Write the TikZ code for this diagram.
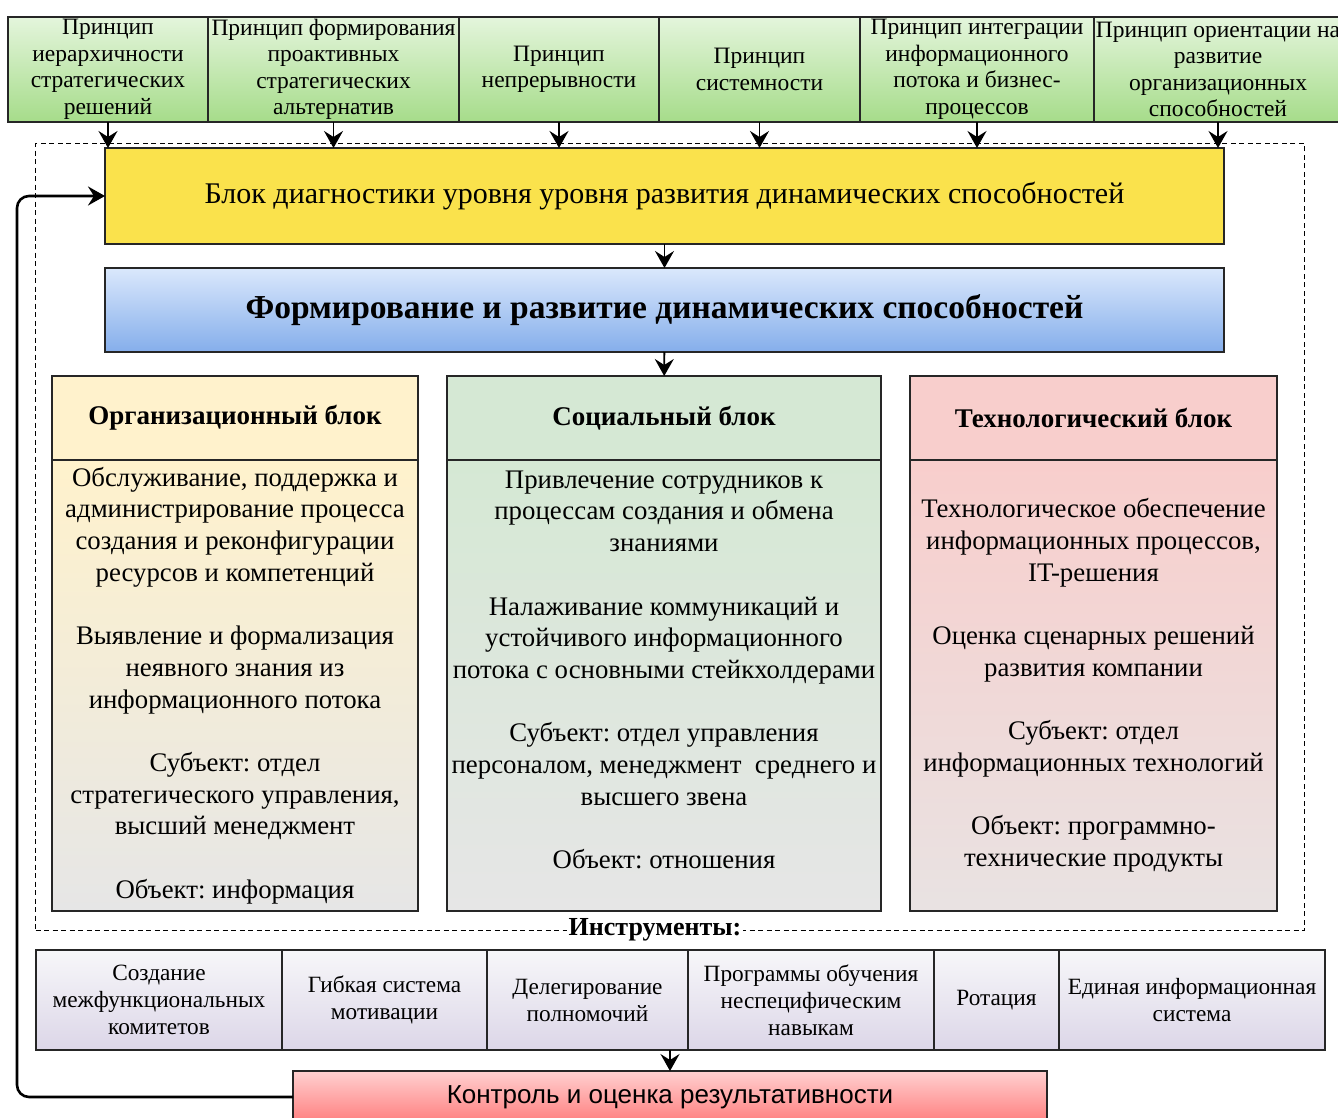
\documentclass[tikz,border=0pt]{standalone}
\usepackage{fontspec}
\setmainfont{Liberation Serif}
\newfontfamily\ctrlfont{Liberation Sans}
\usepackage{xcolor}
\usepackage{tikz}
\usetikzlibrary{arrows.meta,positioning}
\frenchspacing

\definecolor{prinTop}{HTML}{E4F5DC}
\definecolor{prinBot}{HTML}{A6DC8A}
\definecolor{diagYellow}{HTML}{FAE24C}
\definecolor{formTop}{HTML}{DAE8FC}
\definecolor{formBot}{HTML}{85AEEB}
\definecolor{orgCol}{HTML}{FFF2CC}
\definecolor{socCol}{HTML}{D5E8D4}
\definecolor{techCol}{HTML}{F8CECC}
\definecolor{bodyBot}{HTML}{E6E6E6}
\definecolor{toolTop}{HTML}{F7F7F9}
\definecolor{toolBot}{HTML}{DCD6E8}
\definecolor{ctrlTop}{HTML}{FFD0D0}
\definecolor{ctrlBot}{HTML}{FF7E7E}

\begin{document}
\begin{tikzpicture}[x=1pt,y=-1pt,
  box/.style={draw=black!85,line width=1.6pt,align=center,inner sep=0pt,outer sep=0pt},
  prin/.style={box,top color=prinTop,bottom color=prinBot,minimum height=105,
    font=\fontsize{23.5}{26.5}\selectfont},
  head/.style={box,minimum height=84,font=\bfseries\fontsize{27}{31}\selectfont},
  body/.style={box,minimum height=451,bottom color=bodyBot,
    font=\fontsize{26.8}{31.7}\selectfont},
  tool/.style={box,top color=toolTop,bottom color=toolBot,minimum height=100,
    font=\fontsize{23.3}{27}\selectfont},
  arr/.style={-{Stealth[length=17pt,width=19pt,inset=6pt]},line width=1.9pt},
  frame/.style={draw,dashed,dash pattern=on 5pt off 3.5pt,line width=1.3pt}
]
\clip (0,0) rectangle (1338,1118);

\node[prin,minimum width=200,anchor=north west] (p1) at (8,17) {Принцип\\иерархичности\\стратегических\\решений};
\node[prin,minimum width=251,right=0pt of p1] (p2) {Принцип формирования\\проактивных\\стратегических\\альтернатив};
\node[prin,minimum width=200,right=0pt of p2] (p3) {Принцип\\непрерывности};
\node[prin,minimum width=201,right=0pt of p3] (p4) {Принцип\\системности};
\node[prin,minimum width=234,right=0pt of p4] (p5) {Принцип интеграции\\информационного\\потока и бизнес-\\процессов};
\node[prin,minimum width=248,right=0pt of p5] (p6) {Принцип ориентации на\\развитие\\организационных\\способностей};

\node[frame,minimum width=1269,minimum height=787,anchor=north west] (zone) at (35,143) {};

\node[box,fill=diagYellow,minimum width=1119,minimum height=96,anchor=north west,
  font=\fontsize{30}{34}\selectfont] (diag) at (105,148)
  {Блок диагностики уровня уровня развития динамических способностей};
\node[box,top color=formTop,bottom color=formBot,minimum width=1119,minimum height=84,
  below=24pt of diag,font=\bfseries\fontsize{33.5}{38}\selectfont] (form)
  {Формирование и развитие динамических способностей};

\node[head,fill=orgCol,minimum width=366,anchor=north west] (org) at (52,376) {Организационный блок};
\node[body,top color=orgCol,minimum width=366,below=0pt of org] (orgb)
  {Обслуживание, поддержка и\\администрирование процесса\\создания и реконфигурации\\ресурсов и компетенций\\[31.7pt]
   Выявление и формализация\\неявного знания из\\информационного потока\\[31.7pt]
   Субъект: отдел\\стратегического управления,\\высший менеджмент\\[31.7pt]
   Объект: информация};

\node[head,fill=socCol,minimum width=434,anchor=north west] (soc) at (447,376) {Социальный блок};
\node[body,top color=socCol,minimum width=434,below=0pt of soc] (socb)
  {Привлечение сотрудников к\\процессам создания и обмена\\знаниями\\[31.7pt]
   Налаживание коммуникаций и\\устойчивого информационного\\потока с основными стейкхолдерами\\[31.7pt]
   Субъект: отдел управления\\персоналом, менеджмент~ среднего и\\высшего звена\\[31.7pt]
   Объект: отношения\\~};

\node[head,fill=techCol,minimum width=367,anchor=north west] (tech) at (910,376) {Технологический блок};
\node[body,top color=techCol,bottom color=bodyBot!85!techCol,minimum width=367,below=0pt of tech] (techb)
  {Технологическое обеспечение\\информационных процессов,\\IT-решения\\[31.7pt]
   Оценка сценарных решений\\развития компании\\[31.7pt]
   Субъект: отдел\\информационных технологий\\[31.7pt]
   Объект: программно-\\технические продукты};

\node[fill=white,inner sep=2pt,font=\bfseries\fontsize{26}{30}\selectfont] (instr) at (655,930) {Инструменты:};

\node[tool,minimum width=246,anchor=north west] (t1) at (36,950) {Создание\\межфункциональных\\комитетов};
\node[tool,minimum width=205,right=0pt of t1] (t2) {Гибкая система\\мотивации};
\node[tool,minimum width=201,right=0pt of t2] (t3) {Делегирование\\полномочий};
\node[tool,minimum width=246,right=0pt of t3] (t4) {Программы обучения\\неспецифическим\\навыкам};
\node[tool,minimum width=125,right=0pt of t4] (t5) {Ротация};
\node[tool,minimum width=266,right=0pt of t5] (t6) {Единая информационная\\система};

\node[box,top color=ctrlTop,bottom color=ctrlBot,minimum width=754,minimum height=52,anchor=north west,
  font=\ctrlfont\fontsize{26}{30}\selectfont] (ctrl) at (293,1071) {Контроль и оценка результативности};

\foreach \p in {p1,p2,p3,p4,p5,p6}
  \draw[arr] (\p.south) -- (\p.south |- diag.north);
\draw[arr] (diag) -- (form);
\draw[arr] (form) -- (soc);
\draw[arr] (ctrl.north |- t3.south) -- (ctrl.north);
\draw[arr,line width=2.6pt,rounded corners=12pt] (ctrl.west) -| ([xshift=-88pt]diag.west) -- (diag.west);
\end{tikzpicture}
\end{document}
